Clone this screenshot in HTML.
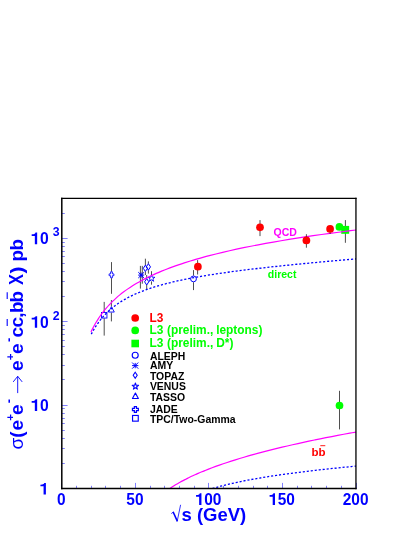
<!DOCTYPE html>
<html><head><meta charset="utf-8"><title>chart</title>
<style>html,body{margin:0;padding:0;background:#fff;}body{width:415px;height:537px;overflow:hidden;font-family:"Liberation Sans",sans-serif;}svg{display:block;will-change:transform;}</style>
</head><body>
<svg width="415" height="537" viewBox="0 0 415 537">
<rect x="0" y="0" width="415" height="537" fill="#fff"/>
<line x1="61.50" x2="61.50" y1="488.5" y2="482.9" stroke="#0000ff" stroke-width="0.5"/>
<line x1="76.50" x2="76.50" y1="488.5" y2="485.8" stroke="#0000ff" stroke-width="0.5"/>
<line x1="91.50" x2="91.50" y1="488.5" y2="485.8" stroke="#0000ff" stroke-width="0.5"/>
<line x1="105.50" x2="105.50" y1="488.5" y2="485.8" stroke="#0000ff" stroke-width="0.5"/>
<line x1="120.50" x2="120.50" y1="488.5" y2="485.8" stroke="#0000ff" stroke-width="0.5"/>
<line x1="135.50" x2="135.50" y1="488.5" y2="482.9" stroke="#0000ff" stroke-width="0.5"/>
<line x1="150.50" x2="150.50" y1="488.5" y2="485.8" stroke="#0000ff" stroke-width="0.5"/>
<line x1="164.50" x2="164.50" y1="488.5" y2="485.8" stroke="#0000ff" stroke-width="0.5"/>
<line x1="179.50" x2="179.50" y1="488.5" y2="485.8" stroke="#0000ff" stroke-width="0.5"/>
<line x1="194.50" x2="194.50" y1="488.5" y2="485.8" stroke="#0000ff" stroke-width="0.5"/>
<line x1="208.50" x2="208.50" y1="488.5" y2="482.9" stroke="#0000ff" stroke-width="0.5"/>
<line x1="223.50" x2="223.50" y1="488.5" y2="485.8" stroke="#0000ff" stroke-width="0.5"/>
<line x1="238.50" x2="238.50" y1="488.5" y2="485.8" stroke="#0000ff" stroke-width="0.5"/>
<line x1="253.50" x2="253.50" y1="488.5" y2="485.8" stroke="#0000ff" stroke-width="0.5"/>
<line x1="267.50" x2="267.50" y1="488.5" y2="485.8" stroke="#0000ff" stroke-width="0.5"/>
<line x1="282.50" x2="282.50" y1="488.5" y2="482.9" stroke="#0000ff" stroke-width="0.5"/>
<line x1="297.50" x2="297.50" y1="488.5" y2="485.8" stroke="#0000ff" stroke-width="0.5"/>
<line x1="311.50" x2="311.50" y1="488.5" y2="485.8" stroke="#0000ff" stroke-width="0.5"/>
<line x1="326.50" x2="326.50" y1="488.5" y2="485.8" stroke="#0000ff" stroke-width="0.5"/>
<line x1="341.50" x2="341.50" y1="488.5" y2="485.8" stroke="#0000ff" stroke-width="0.5"/>
<line x1="356.50" x2="356.50" y1="488.5" y2="482.9" stroke="#0000ff" stroke-width="0.5"/>
<line x1="61.8" x2="67.6" y1="488.50" y2="488.50" stroke="#0000ff" stroke-width="0.5"/>
<line x1="61.8" x2="64.8" y1="463.50" y2="463.50" stroke="#0000ff" stroke-width="0.5"/>
<line x1="61.8" x2="64.8" y1="448.50" y2="448.50" stroke="#0000ff" stroke-width="0.5"/>
<line x1="61.8" x2="64.8" y1="438.50" y2="438.50" stroke="#0000ff" stroke-width="0.5"/>
<line x1="61.8" x2="64.8" y1="430.50" y2="430.50" stroke="#0000ff" stroke-width="0.5"/>
<line x1="61.8" x2="64.8" y1="423.50" y2="423.50" stroke="#0000ff" stroke-width="0.5"/>
<line x1="61.8" x2="64.8" y1="418.50" y2="418.50" stroke="#0000ff" stroke-width="0.5"/>
<line x1="61.8" x2="64.8" y1="413.50" y2="413.50" stroke="#0000ff" stroke-width="0.5"/>
<line x1="61.8" x2="64.8" y1="408.50" y2="408.50" stroke="#0000ff" stroke-width="0.5"/>
<line x1="61.8" x2="67.6" y1="405.50" y2="405.50" stroke="#0000ff" stroke-width="0.5"/>
<line x1="61.8" x2="64.8" y1="379.50" y2="379.50" stroke="#0000ff" stroke-width="0.5"/>
<line x1="61.8" x2="64.8" y1="365.50" y2="365.50" stroke="#0000ff" stroke-width="0.5"/>
<line x1="61.8" x2="64.8" y1="354.50" y2="354.50" stroke="#0000ff" stroke-width="0.5"/>
<line x1="61.8" x2="64.8" y1="346.50" y2="346.50" stroke="#0000ff" stroke-width="0.5"/>
<line x1="61.8" x2="64.8" y1="340.50" y2="340.50" stroke="#0000ff" stroke-width="0.5"/>
<line x1="61.8" x2="64.8" y1="334.50" y2="334.50" stroke="#0000ff" stroke-width="0.5"/>
<line x1="61.8" x2="64.8" y1="329.50" y2="329.50" stroke="#0000ff" stroke-width="0.5"/>
<line x1="61.8" x2="64.8" y1="325.50" y2="325.50" stroke="#0000ff" stroke-width="0.5"/>
<line x1="61.8" x2="67.6" y1="321.50" y2="321.50" stroke="#0000ff" stroke-width="0.5"/>
<line x1="61.8" x2="64.8" y1="296.50" y2="296.50" stroke="#0000ff" stroke-width="0.5"/>
<line x1="61.8" x2="64.8" y1="281.50" y2="281.50" stroke="#0000ff" stroke-width="0.5"/>
<line x1="61.8" x2="64.8" y1="271.50" y2="271.50" stroke="#0000ff" stroke-width="0.5"/>
<line x1="61.8" x2="64.8" y1="263.50" y2="263.50" stroke="#0000ff" stroke-width="0.5"/>
<line x1="61.8" x2="64.8" y1="256.50" y2="256.50" stroke="#0000ff" stroke-width="0.5"/>
<line x1="61.8" x2="64.8" y1="251.50" y2="251.50" stroke="#0000ff" stroke-width="0.5"/>
<line x1="61.8" x2="64.8" y1="246.50" y2="246.50" stroke="#0000ff" stroke-width="0.5"/>
<line x1="61.8" x2="64.8" y1="242.50" y2="242.50" stroke="#0000ff" stroke-width="0.5"/>
<line x1="61.8" x2="67.6" y1="238.50" y2="238.50" stroke="#0000ff" stroke-width="0.5"/>
<line x1="61.8" x2="64.8" y1="213.50" y2="213.50" stroke="#0000ff" stroke-width="0.5"/>
<line x1="61.8" x2="64.8" y1="198.50" y2="198.50" stroke="#0000ff" stroke-width="0.5"/>
<line x1="104.20" x2="104.20" y1="301.90" y2="312.30" stroke="#222" stroke-width="0.80"/>
<line x1="104.20" x2="104.20" y1="318.30" y2="335.60" stroke="#222" stroke-width="0.80"/>
<rect x="101.45" y="312.55" width="5.50" height="5.50" fill="none" stroke="#0000ff" stroke-width="0.90"/>
<line x1="111.40" x2="111.40" y1="300.00" y2="306.60" stroke="#222" stroke-width="0.80"/>
<line x1="111.40" x2="111.40" y1="312.60" y2="321.40" stroke="#222" stroke-width="0.80"/>
<path d="M111.40,306.70 L114.30,312.06 L108.50,312.06 Z" fill="none" stroke="#0000ff" stroke-width="0.90" stroke-linejoin="round"/>
<line x1="111.50" x2="111.50" y1="262.10" y2="271.50" stroke="#222" stroke-width="0.80"/>
<line x1="111.50" x2="111.50" y1="278.10" y2="293.80" stroke="#222" stroke-width="0.80"/>
<polygon points="110.60,271.80 112.40,271.80 112.40,273.90 113.90,273.90 113.90,275.70 112.40,275.70 112.40,277.80 110.60,277.80 110.60,275.70 109.10,275.70 109.10,273.90 110.60,273.90" fill="none" stroke="#0000ff" stroke-width="0.85"/>
<line x1="140.40" x2="140.40" y1="265.90" y2="275.10" stroke="#222" stroke-width="0.80"/>
<line x1="140.40" x2="140.40" y1="275.10" y2="288.60" stroke="#222" stroke-width="0.80"/>
<line x1="142.30" x2="142.30" y1="265.90" y2="275.10" stroke="#222" stroke-width="0.80"/>
<line x1="142.30" x2="142.30" y1="275.10" y2="283.70" stroke="#222" stroke-width="0.80"/>
<path d="M141.20,272.55 L141.20,277.65 M138.20,275.10 L144.20,275.10 M138.29,272.19 L144.11,278.01 M138.29,278.01 L144.11,272.19 " fill="none" stroke="#0000ff" stroke-width="1.00"/>
<line x1="145.40" x2="145.40" y1="258.70" y2="265.10" stroke="#222" stroke-width="0.80"/>
<line x1="145.40" x2="145.40" y1="271.50" y2="275.00" stroke="#222" stroke-width="0.80"/>
<line x1="148.40" x2="148.40" y1="261.40" y2="263.70" stroke="#222" stroke-width="0.80"/>
<line x1="148.40" x2="148.40" y1="270.10" y2="273.60" stroke="#222" stroke-width="0.80"/>
<line x1="146.70" x2="146.70" y1="275.00" y2="278.60" stroke="#222" stroke-width="0.80"/>
<line x1="146.70" x2="146.70" y1="285.00" y2="289.50" stroke="#222" stroke-width="0.80"/>
<line x1="151.50" x2="151.50" y1="271.20" y2="275.40" stroke="#222" stroke-width="0.80"/>
<line x1="151.50" x2="151.50" y1="281.40" y2="284.70" stroke="#222" stroke-width="0.80"/>
<path d="M145.40,265.10 L147.50,268.30 L145.40,271.50 L143.30,268.30 Z" fill="none" stroke="#0000ff" stroke-width="1.00"/>
<path d="M148.40,263.70 L150.50,266.90 L148.40,270.10 L146.30,266.90 Z" fill="none" stroke="#0000ff" stroke-width="1.00"/>
<path d="M146.70,278.60 L148.80,281.80 L146.70,285.00 L144.60,281.80 Z" fill="none" stroke="#0000ff" stroke-width="1.00"/>
<polygon points="151.50,274.80 152.35,277.24 154.92,277.29 152.87,278.84 153.62,281.31 151.50,279.84 149.38,281.31 150.13,278.84 148.08,277.29 150.65,277.24" fill="none" stroke="#0000ff" stroke-width="0.90" stroke-linejoin="round"/>
<line x1="193.50" x2="193.50" y1="270.10" y2="275.60" stroke="#222" stroke-width="0.80"/>
<line x1="193.50" x2="193.50" y1="282.20" y2="290.10" stroke="#222" stroke-width="0.80"/>
<circle cx="193.50" cy="278.90" r="2.90" fill="none" stroke="#0000ff" stroke-width="1.00"/>
<line x1="345.40" x2="345.40" y1="220.10" y2="242.80" stroke="#222" stroke-width="0.80"/>
<line x1="339.50" x2="339.50" y1="390.80" y2="429.40" stroke="#222" stroke-width="0.80"/>
<circle cx="339.40" cy="226.90" r="3.85" fill="#00ff00"/>
<rect x="341.25" y="225.90" width="7.90" height="7.90" fill="#00ff00"/>
<circle cx="339.50" cy="405.50" r="3.85" fill="#00ff00"/>
<path d="M91.00,331.97 C91.09,331.78 91.27,331.40 91.54,330.84 C91.81,330.28 92.21,329.46 92.64,328.61 C93.07,327.77 93.58,326.78 94.14,325.76 C94.69,324.75 95.31,323.64 95.97,322.53 C96.63,321.41 97.35,320.23 98.11,319.06 C98.86,317.89 99.67,316.68 100.51,315.48 C101.36,314.29 102.25,313.08 103.17,311.88 C104.10,310.68 105.07,309.49 106.07,308.31 C107.08,307.13 108.12,305.95 109.20,304.80 C110.28,303.65 111.39,302.51 112.54,301.39 C113.69,300.27 114.87,299.17 116.09,298.08 C117.31,297.00 118.56,295.94 119.84,294.90 C121.12,293.85 122.43,292.83 123.78,291.82 C125.12,290.82 126.50,289.84 127.90,288.87 C129.31,287.91 130.75,286.96 132.21,286.03 C133.68,285.11 135.17,284.20 136.69,283.31 C138.22,282.42 139.77,281.54 141.35,280.69 C142.93,279.83 144.53,278.99 146.17,278.16 C147.80,277.34 149.47,276.53 151.15,275.74 C152.84,274.95 154.56,274.17 156.30,273.40 C158.04,272.64 159.81,271.89 161.60,271.15 C163.39,270.42 165.21,269.69 167.06,268.98 C168.90,268.27 170.77,267.57 172.66,266.89 C174.56,266.20 176.47,265.53 178.42,264.86 C180.36,264.20 182.33,263.54 184.32,262.90 C186.31,262.26 188.32,261.63 190.36,261.01 C192.40,260.38 194.46,259.77 196.55,259.17 C198.63,258.56 200.74,257.97 202.87,257.39 C205.00,256.80 207.15,256.22 209.33,255.66 C211.51,255.09 213.71,254.53 215.93,253.98 C218.15,253.42 220.39,252.88 222.66,252.34 C224.92,251.81 227.21,251.28 229.52,250.76 C231.82,250.23 234.15,249.72 236.51,249.21 C238.86,248.70 241.23,248.20 243.63,247.71 C246.02,247.21 248.43,246.72 250.87,246.24 C253.31,245.76 255.76,245.28 258.24,244.81 C260.72,244.34 263.22,243.87 265.74,243.41 C268.25,242.96 270.79,242.50 273.35,242.05 C275.91,241.60 278.49,241.16 281.09,240.72 C283.69,240.29 286.31,239.85 288.95,239.43 C291.59,239.00 294.25,238.58 296.93,238.16 C299.61,237.74 302.30,237.33 305.02,236.92 C307.74,236.51 310.48,236.10 313.23,235.70 C315.99,235.30 318.77,234.91 321.56,234.52 C324.35,234.12 327.17,233.74 330.00,233.35 C332.83,232.97 335.69,232.59 338.56,232.22 C341.43,231.84 344.31,231.47 347.22,231.10 C350.13,230.73 354.54,230.19 356.00,230.01" fill="none" stroke="#ff00ff" stroke-width="1.2"/>
<path d="M169.80,488.57 C169.86,488.52 169.99,488.44 170.18,488.31 C170.37,488.18 170.65,487.99 170.95,487.79 C171.26,487.58 171.61,487.34 172.00,487.09 C172.40,486.83 172.83,486.55 173.29,486.26 C173.76,485.96 174.26,485.65 174.79,485.32 C175.32,484.99 175.89,484.65 176.48,484.30 C177.08,483.94 177.70,483.57 178.35,483.20 C179.00,482.82 179.69,482.44 180.39,482.05 C181.10,481.65 181.83,481.25 182.59,480.85 C183.34,480.44 184.13,480.03 184.94,479.61 C185.74,479.20 186.57,478.77 187.43,478.35 C188.28,477.92 189.16,477.49 190.06,477.06 C190.96,476.63 191.89,476.19 192.83,475.76 C193.78,475.32 194.74,474.88 195.73,474.44 C196.72,474.00 197.73,473.55 198.76,473.11 C199.79,472.67 200.84,472.22 201.91,471.78 C202.98,471.33 204.07,470.89 205.18,470.44 C206.29,469.99 207.42,469.55 208.56,469.10 C209.71,468.66 210.88,468.21 212.07,467.76 C213.25,467.32 214.46,466.87 215.68,466.43 C216.91,465.98 218.15,465.54 219.41,465.10 C220.67,464.65 221.95,464.21 223.24,463.77 C224.54,463.33 225.85,462.89 227.18,462.45 C228.51,462.01 229.86,461.57 231.22,461.13 C232.59,460.69 233.97,460.26 235.37,459.82 C236.77,459.39 238.18,458.95 239.62,458.52 C241.05,458.09 242.50,457.65 243.96,457.22 C245.43,456.79 246.91,456.37 248.40,455.94 C249.90,455.51 251.41,455.08 252.94,454.66 C254.47,454.24 256.02,453.81 257.58,453.39 C259.14,452.97 260.72,452.55 262.31,452.13 C263.90,451.71 265.51,451.29 267.13,450.88 C268.75,450.46 270.39,450.05 272.04,449.63 C273.69,449.22 275.36,448.81 277.04,448.40 C278.72,447.99 280.42,447.58 282.13,447.18 C283.84,446.77 285.57,446.36 287.31,445.96 C289.05,445.56 290.81,445.15 292.58,444.75 C294.35,444.35 296.13,443.95 297.93,443.55 C299.73,443.16 301.54,442.76 303.37,442.36 C305.19,441.97 307.03,441.58 308.89,441.18 C310.74,440.79 312.61,440.40 314.49,440.01 C316.38,439.62 318.27,439.24 320.18,438.85 C322.09,438.46 324.01,438.08 325.95,437.69 C327.89,437.31 329.84,436.93 331.80,436.55 C333.76,436.17 335.74,435.79 337.73,435.41 C339.72,435.03 341.73,434.66 343.74,434.28 C345.76,433.91 347.79,433.53 349.83,433.16 C351.88,432.79 354.97,432.23 356.00,432.05" fill="none" stroke="#ff00ff" stroke-width="1.2"/>
<path d="M91.30,334.16 C91.39,333.98 91.57,333.63 91.84,333.12 C92.11,332.62 92.51,331.88 92.94,331.11 C93.37,330.35 93.88,329.46 94.43,328.55 C94.99,327.64 95.61,326.65 96.27,325.65 C96.93,324.66 97.64,323.61 98.40,322.58 C99.15,321.54 99.96,320.48 100.80,319.43 C101.65,318.39 102.53,317.34 103.46,316.30 C104.39,315.27 105.35,314.24 106.36,313.24 C107.36,312.23 108.40,311.24 109.48,310.28 C110.56,309.31 111.67,308.36 112.82,307.44 C113.96,306.52 115.15,305.62 116.36,304.74 C117.58,303.86 118.82,303.01 120.10,302.18 C121.38,301.35 122.70,300.55 124.04,299.76 C125.38,298.98 126.76,298.22 128.16,297.48 C129.57,296.75 131.00,296.03 132.46,295.34 C133.93,294.64 135.42,293.97 136.94,293.32 C138.46,292.66 140.01,292.03 141.59,291.41 C143.17,290.79 144.77,290.20 146.41,289.61 C148.04,289.03 149.70,288.47 151.39,287.92 C153.07,287.37 154.79,286.84 156.53,286.32 C158.26,285.80 160.03,285.29 161.82,284.80 C163.61,284.31 165.43,283.83 167.27,283.36 C169.11,282.89 170.98,282.44 172.87,281.99 C174.76,281.55 176.68,281.11 178.62,280.69 C180.56,280.27 182.52,279.85 184.51,279.45 C186.50,279.04 188.51,278.64 190.55,278.26 C192.58,277.87 194.64,277.49 196.73,277.11 C198.81,276.74 200.91,276.38 203.04,276.02 C205.17,275.66 207.32,275.30 209.50,274.96 C211.67,274.61 213.87,274.27 216.08,273.94 C218.30,273.60 220.54,273.27 222.81,272.95 C225.07,272.62 227.35,272.30 229.66,271.99 C231.97,271.67 234.29,271.36 236.64,271.05 C238.99,270.75 241.36,270.44 243.75,270.15 C246.14,269.85 248.56,269.55 250.99,269.26 C253.42,268.96 255.88,268.68 258.35,268.39 C260.83,268.10 263.32,267.82 265.84,267.54 C268.35,267.26 270.89,266.98 273.45,266.70 C276.00,266.43 278.58,266.15 281.18,265.88 C283.77,265.61 286.39,265.34 289.03,265.07 C291.66,264.80 294.32,264.54 296.99,264.27 C299.67,264.01 302.37,263.75 305.08,263.48 C307.79,263.22 310.53,262.96 313.28,262.70 C316.04,262.44 318.81,262.19 321.60,261.93 C324.39,261.67 327.20,261.42 330.03,261.16 C332.86,260.91 335.71,260.66 338.58,260.40 C341.44,260.15 344.33,259.90 347.23,259.65 C350.14,259.40 354.54,259.02 356.00,258.90" fill="none" stroke="#0000ff" stroke-width="1.3" stroke-dasharray="2.1 1.9"/>
<path d="M212.40,488.44 C212.45,488.43 212.55,488.40 212.69,488.36 C212.84,488.32 213.05,488.26 213.29,488.20 C213.52,488.13 213.80,488.06 214.10,487.98 C214.40,487.89 214.74,487.80 215.09,487.70 C215.45,487.60 215.84,487.50 216.25,487.39 C216.66,487.28 217.10,487.16 217.55,487.03 C218.01,486.91 218.49,486.78 219.00,486.65 C219.50,486.52 220.02,486.38 220.57,486.24 C221.11,486.10 221.68,485.95 222.26,485.80 C222.85,485.65 223.45,485.50 224.07,485.34 C224.69,485.19 225.34,485.03 226.00,484.87 C226.65,484.71 227.33,484.54 228.03,484.38 C228.72,484.21 229.43,484.04 230.16,483.87 C230.89,483.71 231.64,483.53 232.40,483.36 C233.16,483.19 233.94,483.02 234.73,482.84 C235.53,482.67 236.34,482.49 237.16,482.32 C237.99,482.14 238.83,481.96 239.68,481.78 C240.54,481.61 241.41,481.43 242.30,481.25 C243.18,481.07 244.08,480.89 245.00,480.71 C245.91,480.53 246.84,480.35 247.78,480.17 C248.73,479.99 249.69,479.81 250.66,479.63 C251.63,479.45 252.61,479.27 253.61,479.09 C254.61,478.91 255.63,478.73 256.65,478.55 C257.68,478.38 258.72,478.20 259.77,478.02 C260.82,477.84 261.89,477.66 262.97,477.48 C264.05,477.30 265.14,477.13 266.24,476.95 C267.35,476.77 268.46,476.60 269.59,476.42 C270.72,476.24 271.87,476.07 273.02,475.89 C274.18,475.72 275.34,475.54 276.52,475.37 C277.70,475.19 278.89,475.02 280.10,474.85 C281.30,474.67 282.51,474.50 283.74,474.33 C284.97,474.16 286.21,473.99 287.46,473.82 C288.71,473.65 289.97,473.48 291.25,473.31 C292.52,473.14 293.81,472.97 295.11,472.80 C296.40,472.63 297.71,472.46 299.03,472.30 C300.35,472.13 301.68,471.96 303.03,471.80 C304.37,471.63 305.72,471.47 307.09,471.30 C308.45,471.14 309.83,470.98 311.21,470.81 C312.60,470.65 314.00,470.49 315.41,470.33 C316.82,470.17 318.24,470.01 319.67,469.85 C321.10,469.69 322.54,469.53 323.99,469.37 C325.44,469.21 326.90,469.05 328.38,468.89 C329.85,468.74 331.33,468.58 332.83,468.42 C334.32,468.27 335.82,468.11 337.34,467.96 C338.85,467.80 340.38,467.65 341.91,467.50 C343.45,467.34 344.99,467.19 346.55,467.04 C348.10,466.89 349.67,466.74 351.24,466.59 C352.82,466.43 355.21,466.21 356.00,466.14" fill="none" stroke="#0000ff" stroke-width="1.3" stroke-dasharray="2.1 1.9"/>
<line x1="197.60" x2="197.60" y1="260.10" y2="274.50" stroke="#222" stroke-width="0.80"/>
<line x1="260.00" x2="260.00" y1="220.10" y2="236.10" stroke="#222" stroke-width="0.80"/>
<line x1="306.40" x2="306.40" y1="234.20" y2="247.70" stroke="#222" stroke-width="0.80"/>
<line x1="330.10" x2="330.10" y1="228.00" y2="234.00" stroke="#222" stroke-width="0.80"/>
<circle cx="197.90" cy="266.70" r="3.85" fill="#ff0000"/>
<circle cx="260.00" cy="227.30" r="3.85" fill="#ff0000"/>
<circle cx="306.40" cy="240.40" r="3.85" fill="#ff0000"/>
<circle cx="330.10" cy="228.90" r="3.85" fill="#ff0000"/>
<path d="M61.05,198.35 L356.60,198.35" stroke="#000" stroke-width="1.1" fill="none"/>
<path d="M355.95,197.80 L355.95,489.25" stroke="#000" stroke-width="1.3" fill="none"/>
<path d="M61.80,197.80 L61.80,489.25" stroke="#000" stroke-width="1.5" fill="none"/>
<path d="M61.05,488.50 L356.60,488.50" stroke="#000" stroke-width="1.5" fill="none"/>
<circle cx="135.20" cy="318.00" r="3.85" fill="#ff0000"/>
<circle cx="135.20" cy="330.40" r="3.85" fill="#00ff00"/>
<rect x="131.40" y="339.70" width="7.60" height="7.60" fill="#00ff00"/>
<circle cx="135.20" cy="355.20" r="3.00" fill="none" stroke="#0000ff" stroke-width="1.15"/>
<path d="M135.20,362.92 L135.20,368.28 M132.05,365.60 L138.35,365.60 M132.14,362.54 L138.26,368.66 M132.14,368.66 L138.26,362.54 " fill="none" stroke="#0000ff" stroke-width="1.00"/>
<path d="M135.20,372.20 L137.20,375.20 L135.20,378.20 L133.20,375.20 Z" fill="none" stroke="#0000ff" stroke-width="1.10"/>
<polygon points="135.40,383.05 136.19,385.32 138.59,385.36 136.67,386.81 137.37,389.11 135.40,387.74 133.43,389.11 134.13,386.81 132.21,385.36 134.61,385.32" fill="none" stroke="#0000ff" stroke-width="1.10" stroke-linejoin="round"/>
<path d="M135.40,393.05 L138.35,398.51 L132.45,398.51 Z" fill="none" stroke="#0000ff" stroke-width="1.15" stroke-linejoin="round"/>
<polygon points="134.35,406.55 136.45,406.55 136.45,408.45 138.35,408.45 138.35,410.55 136.45,410.55 136.45,412.45 134.35,412.45 134.35,410.55 132.45,410.55 132.45,408.45 134.35,408.45" fill="none" stroke="#0000ff" stroke-width="1.20"/>
<rect x="132.55" y="415.45" width="5.70" height="5.70" fill="none" stroke="#0000ff" stroke-width="1.15"/>
<text x="149.40" y="321.90" font-family="Liberation Sans, sans-serif" font-size="11.90" font-weight="bold" fill="#ff0000" text-anchor="start" >L3</text>
<text x="149.40" y="334.00" font-family="Liberation Sans, sans-serif" font-size="11.90" font-weight="bold" fill="#00ff00" text-anchor="start" >L3</text>
<text x="167.00" y="334.00" font-family="Liberation Sans, sans-serif" font-size="11.90" font-weight="bold" fill="#00ff00" text-anchor="start" >(prelim.,</text>
<text x="216.20" y="334.00" font-family="Liberation Sans, sans-serif" font-size="11.90" font-weight="bold" fill="#00ff00" text-anchor="start" >leptons)</text>
<text x="149.40" y="346.60" font-family="Liberation Sans, sans-serif" font-size="11.90" font-weight="bold" fill="#00ff00" text-anchor="start" >L3</text>
<text x="167.00" y="346.60" font-family="Liberation Sans, sans-serif" font-size="11.90" font-weight="bold" fill="#00ff00" text-anchor="start" >(prelim.,</text>
<text x="216.20" y="346.60" font-family="Liberation Sans, sans-serif" font-size="11.90" font-weight="bold" fill="#00ff00" text-anchor="start" >D*)</text>
<text transform="translate(149.9,359.70) scale(1.045,1)" font-family="Liberation Sans, sans-serif" font-size="10" font-weight="bold" fill="#000">ALEPH</text>
<text transform="translate(149.9,369.40) scale(1.045,1)" font-family="Liberation Sans, sans-serif" font-size="10" font-weight="bold" fill="#000">AMY</text>
<text transform="translate(149.9,379.80) scale(1.045,1)" font-family="Liberation Sans, sans-serif" font-size="10" font-weight="bold" fill="#000">TOPAZ</text>
<text transform="translate(149.9,389.60) scale(1.045,1)" font-family="Liberation Sans, sans-serif" font-size="10" font-weight="bold" fill="#000">VENUS</text>
<text transform="translate(149.9,401.20) scale(1.045,1)" font-family="Liberation Sans, sans-serif" font-size="10" font-weight="bold" fill="#000">TASSO</text>
<text transform="translate(149.9,413.30) scale(1.045,1)" font-family="Liberation Sans, sans-serif" font-size="10" font-weight="bold" fill="#000">JADE</text>
<text transform="translate(149.9,423.20) scale(1.045,1)" font-family="Liberation Sans, sans-serif" font-size="10" font-weight="bold" fill="#000">TPC/Two-Gamma</text>
<text x="273.50" y="235.80" font-family="Liberation Sans, sans-serif" font-size="10.50" font-weight="bold" fill="#ff00ff" text-anchor="start" >QCD</text>
<text x="267.80" y="277.60" font-family="Liberation Sans, sans-serif" font-size="10.50" font-weight="bold" fill="#00ff00" text-anchor="start" >direct</text>
<text x="311.50" y="456.00" font-family="Liberation Sans, sans-serif" font-size="11.50" font-weight="bold" fill="#ff0000" text-anchor="start" >bb</text>
<line x1="320.3" x2="325.3" y1="445.7" y2="445.7" stroke="#ff0000" stroke-width="0.9"/>
<text transform="translate(57.10,504.90) scale(0.915,1)" font-family="Liberation Sans, sans-serif" font-size="16.90" font-weight="bold" fill="#0000ff">0</text>
<text transform="translate(126.35,504.90) scale(0.915,1)" font-family="Liberation Sans, sans-serif" font-size="16.90" font-weight="bold" fill="#0000ff">5</text>
<text transform="translate(134.95,504.90) scale(0.915,1)" font-family="Liberation Sans, sans-serif" font-size="16.90" font-weight="bold" fill="#0000ff">0</text>
<path transform="translate(195.60,504.90) scale(0.00755,-0.00825)" d="M774 0L471 0L471 1002L60 1002L60 1205Q330 1205 455 1270Q535 1320 559 1409L774 1409Z" fill="#0000ff"/>
<text transform="translate(204.20,504.90) scale(0.915,1)" font-family="Liberation Sans, sans-serif" font-size="16.90" font-weight="bold" fill="#0000ff">0</text>
<text transform="translate(212.80,504.90) scale(0.915,1)" font-family="Liberation Sans, sans-serif" font-size="16.90" font-weight="bold" fill="#0000ff">0</text>
<path transform="translate(269.15,504.90) scale(0.00755,-0.00825)" d="M774 0L471 0L471 1002L60 1002L60 1205Q330 1205 455 1270Q535 1320 559 1409L774 1409Z" fill="#0000ff"/>
<text transform="translate(277.75,504.90) scale(0.915,1)" font-family="Liberation Sans, sans-serif" font-size="16.90" font-weight="bold" fill="#0000ff">5</text>
<text transform="translate(286.35,504.90) scale(0.915,1)" font-family="Liberation Sans, sans-serif" font-size="16.90" font-weight="bold" fill="#0000ff">0</text>
<text transform="translate(342.70,504.90) scale(0.915,1)" font-family="Liberation Sans, sans-serif" font-size="16.90" font-weight="bold" fill="#0000ff">2</text>
<text transform="translate(351.30,504.90) scale(0.915,1)" font-family="Liberation Sans, sans-serif" font-size="16.90" font-weight="bold" fill="#0000ff">0</text>
<text transform="translate(359.90,504.90) scale(0.915,1)" font-family="Liberation Sans, sans-serif" font-size="16.90" font-weight="bold" fill="#0000ff">0</text>
<path transform="translate(39.96,494.60) scale(0.00767,-0.00825)" d="M774 0L471 0L471 1002L60 1002L60 1205Q330 1205 455 1270Q535 1320 559 1409L774 1409Z" fill="#0000ff"/>
<path transform="translate(31.22,410.90) scale(0.00767,-0.00825)" d="M774 0L471 0L471 1002L60 1002L60 1205Q330 1205 455 1270Q535 1320 559 1409L774 1409Z" fill="#0000ff"/>
<text transform="translate(39.96,410.90) scale(0.930,1)" font-family="Liberation Sans, sans-serif" font-size="16.90" font-weight="bold" fill="#0000ff">0</text>
<path transform="translate(31.22,327.80) scale(0.00767,-0.00825)" d="M774 0L471 0L471 1002L60 1002L60 1205Q330 1205 455 1270Q535 1320 559 1409L774 1409Z" fill="#0000ff"/>
<text transform="translate(39.96,327.80) scale(0.930,1)" font-family="Liberation Sans, sans-serif" font-size="16.90" font-weight="bold" fill="#0000ff">0</text>
<path transform="translate(31.22,244.20) scale(0.00767,-0.00825)" d="M774 0L471 0L471 1002L60 1002L60 1205Q330 1205 455 1270Q535 1320 559 1409L774 1409Z" fill="#0000ff"/>
<text transform="translate(39.96,244.20) scale(0.930,1)" font-family="Liberation Sans, sans-serif" font-size="16.90" font-weight="bold" fill="#0000ff">0</text>
<text x="52.70" y="319.70" font-family="Liberation Sans, sans-serif" font-size="12.30" font-weight="bold" fill="#0000ff" text-anchor="start" >2</text>
<text x="52.70" y="236.10" font-family="Liberation Sans, sans-serif" font-size="12.30" font-weight="bold" fill="#0000ff" text-anchor="start" >3</text>
<text x="181.50" y="521.10" font-family="Liberation Sans, sans-serif" font-size="18.50" font-weight="bold" fill="#0000ff" text-anchor="start" >s (GeV)</text>
<path d="M171.3,513.6 L173.3,512.0 M177.2,521.3 L180.6,504.8" fill="none" stroke="#0000ff" stroke-width="0.8"/>
<path d="M173.1,511.9 L177.4,521.4" fill="none" stroke="#0000ff" stroke-width="1.5"/>
<g transform="translate(23.1,448.3) rotate(-90)">
<text transform="translate(-1.20,0.00) scale(1.000,1)" font-family="Liberation Sans, sans-serif" font-size="19.00" font-weight="normal" fill="#0000ff">σ</text>
<text transform="translate(10.50,0.00) scale(1.000,1)" font-family="Liberation Sans, sans-serif" font-size="19.00" font-weight="bold" fill="#0000ff">(</text>
<text transform="translate(17.70,0.00) scale(1.000,1)" font-family="Liberation Sans, sans-serif" font-size="19.00" font-weight="bold" fill="#0000ff">e</text>
<text transform="translate(27.50,-9.20) scale(1.000,1)" font-family="Liberation Sans, sans-serif" font-size="11.50" font-weight="bold" fill="#0000ff">+</text>
<text transform="translate(33.40,0.00) scale(1.000,1)" font-family="Liberation Sans, sans-serif" font-size="19.00" font-weight="bold" fill="#0000ff">e</text>
<text transform="translate(45.10,-9.80) scale(1.000,1)" font-family="Liberation Sans, sans-serif" font-size="12.50" font-weight="bold" fill="#0000ff">-</text>
<text transform="translate(77.30,0.00) scale(1.000,1)" font-family="Liberation Sans, sans-serif" font-size="19.00" font-weight="bold" fill="#0000ff">e</text>
<text transform="translate(88.00,-9.20) scale(1.000,1)" font-family="Liberation Sans, sans-serif" font-size="11.50" font-weight="bold" fill="#0000ff">+</text>
<text transform="translate(94.30,0.00) scale(1.000,1)" font-family="Liberation Sans, sans-serif" font-size="19.00" font-weight="bold" fill="#0000ff">e</text>
<text transform="translate(106.20,-9.80) scale(1.000,1)" font-family="Liberation Sans, sans-serif" font-size="12.50" font-weight="bold" fill="#0000ff">-</text>
<text transform="translate(110.70,0.00) scale(1.000,1)" font-family="Liberation Sans, sans-serif" font-size="19.00" font-weight="bold" fill="#0000ff">c</text>
<text transform="translate(120.80,0.00) scale(1.000,1)" font-family="Liberation Sans, sans-serif" font-size="19.00" font-weight="bold" fill="#0000ff">c</text>
<text transform="translate(130.50,0.00) scale(1.000,1)" font-family="Liberation Sans, sans-serif" font-size="19.00" font-weight="bold" fill="#0000ff">,</text>
<text transform="translate(135.20,0.00) scale(1.000,1)" font-family="Liberation Sans, sans-serif" font-size="19.00" font-weight="bold" fill="#0000ff">b</text>
<text transform="translate(145.90,0.00) scale(1.000,1)" font-family="Liberation Sans, sans-serif" font-size="19.00" font-weight="bold" fill="#0000ff">b</text>
<text transform="translate(163.40,0.00) scale(0.840,1)" font-family="Liberation Sans, sans-serif" font-size="19.50" font-weight="bold" fill="#0000ff">X</text>
<text transform="translate(174.90,0.00) scale(1.100,1)" font-family="Liberation Sans, sans-serif" font-size="19.00" font-weight="bold" fill="#0000ff">)</text>
<text transform="translate(186.70,0.00) scale(1.000,1)" font-family="Liberation Sans, sans-serif" font-size="19.00" font-weight="bold" fill="#0000ff">p</text>
<text transform="translate(197.70,0.00) scale(1.000,1)" font-family="Liberation Sans, sans-serif" font-size="19.00" font-weight="bold" fill="#0000ff">b</text>
<path d="M55.2,-5.4 L72.0,-5.4 M66.4,-9.9 L72.0,-5.4 L66.4,-0.9" fill="none" stroke="#0000ff" stroke-width="0.9"/>
<line x1="122.3" x2="129.2" y1="-15.9" y2="-15.9" stroke="#0000ff" stroke-width="1.1"/>
<line x1="149.4" x2="156.1" y1="-15.9" y2="-15.9" stroke="#0000ff" stroke-width="1.1"/>
</g>
</svg>
</body></html>
